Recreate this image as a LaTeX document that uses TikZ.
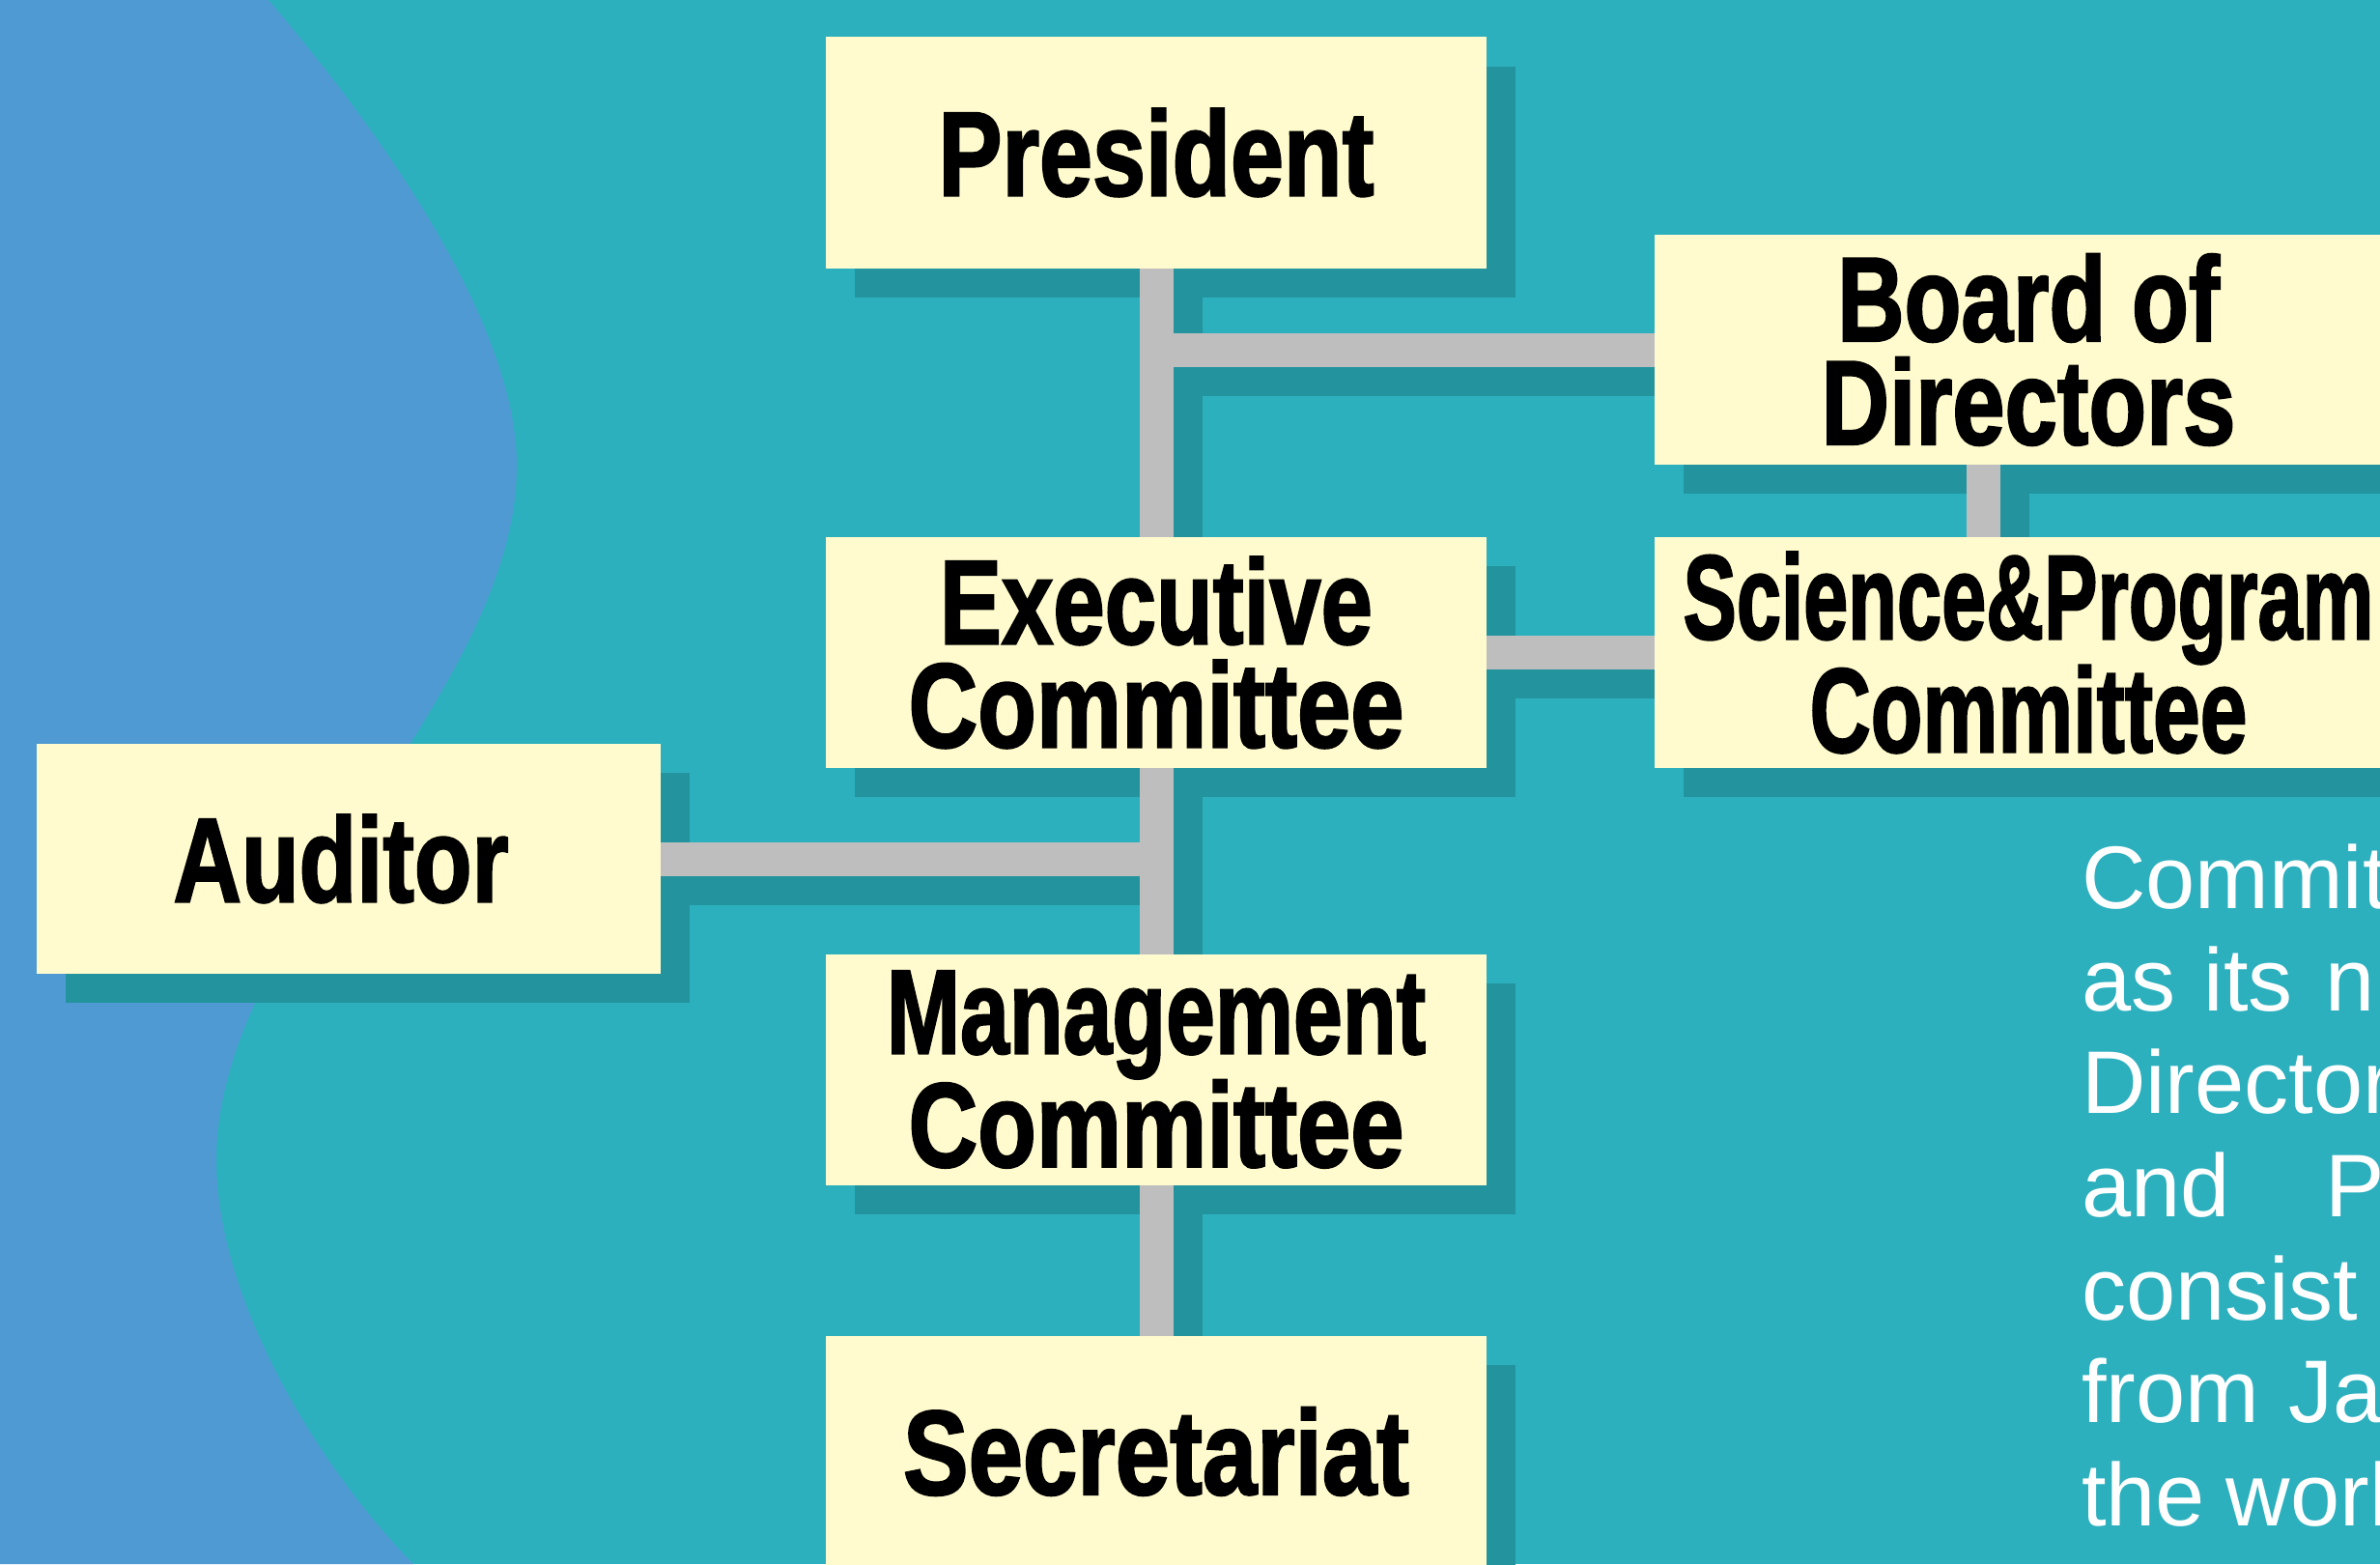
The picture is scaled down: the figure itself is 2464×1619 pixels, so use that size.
\documentclass[tikz,border=0pt]{standalone}
\usepackage{fontspec}
\usepackage{graphicx}
\setmainfont{Liberation Sans}
\newfontfamily\lblfont{Liberation Sans}[BoldFeatures={FakeBold=2}]
\definecolor{bgteal}{RGB}{45,176,190}
\definecolor{wavec}{RGB}{79,154,210}
\definecolor{shdc}{RGB}{35,148,158}
\definecolor{boxc}{RGB}{255,251,206}
\definecolor{conc}{RGB}{190,190,190}
\pgfdeclarelayer{bgl}
\pgfdeclarelayer{shl}
\pgfdeclarelayer{cnl}
\pgfsetlayers{bgl,shl,cnl,main}
\newsavebox\lblbox
\newcommand\fitw[2]{\sbox\lblbox{#2}\pgfmathsetmacro\fitr{#1/\wd\lblbox}\scalebox{\fitr}[1]{\usebox\lblbox}}
\begin{document}
\begin{tikzpicture}[x=1pt,y=-1pt,
  box/.style={fill=boxc, inner sep=0pt, outer sep=0pt, minimum width=684pt, minimum height=239pt, align=center,
    font=\lblfont\bfseries\fontsize{124}{107}\selectfont},
  conn/.style={draw=conc, line width=35pt},
  shconn/.style={draw=shdc, line width=35pt},
  note/.style={anchor=base west, inner sep=0pt, outer sep=0pt, text=white, font=\fontsize{92}{106}\selectfont}]
\useasboundingbox (0,0) rectangle (2464,1619);
% boxes
\node[box] (P) at (1197,158) {\fitw{451}{President}};
\node[box, minimum width=774pt, minimum height=238.5pt] (B) at (2100,362) {\fitw{396}{Board of}\\\fitw{429}{Directors}};
\node[box] (E) at (1197,675.5) {\fitw{448}{Executive}\\\fitw{513}{Committee}};
\node[box, minimum width=774pt] (S) at (2100,675.5) {\fitw{715}{Science\&Program}\\\fitw{453}{Committee}};
\node[box, minimum width=646pt, minimum height=238pt] (A) at (361,889) {\fitw{347}{Auditor}\hspace*{16pt}};
\node[box] (M) at (1197,1107) {\fitw{558}{Management}\\\fitw{513}{Committee}};
\node[box] (Sec) at (1197,1502.5) {\fitw{524}{Secretariat}};
% junction coordinates
\coordinate (jB) at (B.west -| P.south);
\coordinate (jA) at (A.east -| E.south);
\coordinate (bs1) at ([xshift=-47pt]B.south);
\coordinate (bs2) at ([xshift=-47pt]S.north);
% note text
\node[note] (t1) at (2155,940) {Commit};
\node[note] (t2) at (2155,1046) {\makebox[127pt][l]{as}\makebox[126pt][l]{its}n};
\node[note] (t3) at (2155,1152) {Director};
\node[note] (t4) at (2155,1259) {\makebox[253pt][l]{and}P};
\node[note] (t5) at (2155,1366) {consist};
\node[note] (t6) at (2155,1472) {\makebox[214pt][l]{from}Ja};
\node[note] (t7) at (2155,1579) {\makebox[150pt][l]{the}worl};
% background
\begin{pgfonlayer}{bgl}
\fill[bgteal] (0,0) rectangle (2464,1619);
\fill[wavec] (0,0) -- (278,0) .. controls (320,50) and (535,300) .. (535,482)
  .. controls (535,720) and (224,960) .. (224,1200)
  .. controls (224,1350) and (335,1525) .. (428,1619) -- (0,1619) -- cycle;
\end{pgfonlayer}
% shadows
\begin{pgfonlayer}{shl}
\foreach \n in {P,B,E,S,A,M,Sec}{
  \fill[shdc] ([shift={(30,30)}]\n.north west) rectangle ([shift={(30,30)}]\n.south east);
}
\draw[shconn] ([shift={(30,30)}]P.south) -- ([shift={(30,30)}]E.north);
\draw[shconn] ([shift={(30,30)}]E.south) -- ([shift={(30,30)}]M.north);
\draw[shconn] ([shift={(30,30)}]M.south) -- ([shift={(30,30)}]Sec.north);
\draw[shconn] ([shift={(30,30)}]jB) -- ([shift={(30,30)}]B.west);
\draw[shconn] ([shift={(30,30)}]E.east) -- ([shift={(30,30)}]S.west);
\draw[shconn] ([shift={(30,30)}]bs1) -- ([shift={(30,30)}]bs2);
\draw[shconn] ([shift={(30,30)}]jA) -- ([shift={(30,30)}]A.east);
\end{pgfonlayer}
% connectors
\begin{pgfonlayer}{cnl}
\draw[conn] (P.south) -- (E.north);
\draw[conn] (E.south) -- (M.north);
\draw[conn] (M.south) -- (Sec.north);
\draw[conn] (jB) -- (B.west);
\draw[conn] (E.east) -- (S.west);
\draw[conn] (bs1) -- (bs2);
\draw[conn] (jA) -- (A.east);
\end{pgfonlayer}
\end{tikzpicture}
\end{document}
